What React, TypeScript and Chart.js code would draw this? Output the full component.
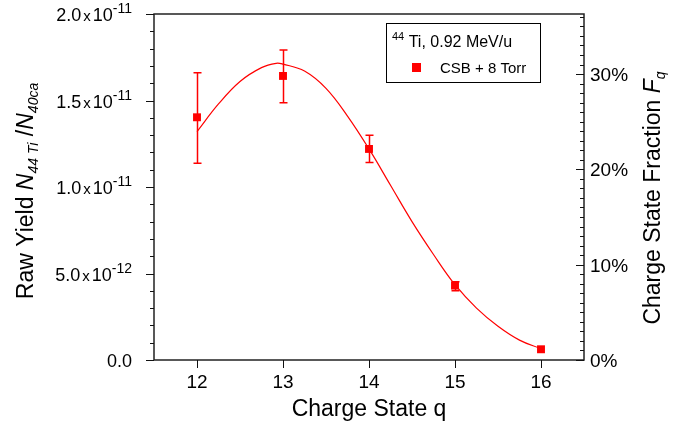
import React, { useEffect, useRef } from "react";
import { Chart, registerables } from "chart.js";

Chart.register(...registerables);

// ---- data ----
const chargeStates = [12, 13, 14, 15, 16];
const rawYield = [1.403e-11, 1.642e-11, 1.22e-11, 0.43e-11, 0.062e-11];
const yieldErrHigh = [1.661e-11, 1.792e-11, 1.299e-11, 0.452e-11, 0.068e-11];
const yieldErrLow = [1.137e-11, 1.487e-11, 1.141e-11, 0.4e-11, 0.056e-11];

const fitQ = [12.0, 12.25, 12.5, 12.75, 12.92, 13.0, 13.25, 13.5, 13.75, 14.0, 14.25, 14.5, 14.75, 15.0, 15.25, 15.5, 15.75, 16.0];
const fitYield = [1.32e-11, 1.48e-11, 1.61e-11, 1.69e-11, 1.715e-11, 1.71e-11, 1.67e-11, 1.57e-11, 1.41e-11, 1.22e-11, 1.01e-11, 0.8e-11, 0.61e-11, 0.435e-11, 0.3e-11, 0.195e-11, 0.115e-11, 0.065e-11];

const xTicks = [12, 13, 14, 15, 16];
const leftTicks = [0, 5e-12, 1e-11, 1.5e-11, 2e-11];
const leftMantissa = ["0.0", "5.0", "1.0", "1.5", "2.0"];
const leftExponent = ["", "-12", "-11", "-11", "-11"];
const rightTicks = [0, 0.1, 0.2, 0.3];
const rightLabels = ["0%", "10%", "20%", "30%"];

const legendTitleSup = "44";
const legendTitle = "Ti, 0.92 MeV/u";
const seriesLabel = "CSB + 8 Torr";

const FONT = "'Liberation Sans', Arial, Helvetica, sans-serif";
const RED = "#ff0000";

type Seg = { t: string; size: number; italic?: boolean; dy?: number; gap?: number };

function drawRich(ctx: CanvasRenderingContext2D, segs: Seg[], x: number, y: number, align: "left" | "right" | "center") {
  let total = 0;
  const widths: number[] = [];
  for (const s of segs) {
    ctx.font = `${s.italic ? "italic " : ""}${s.size}px ${FONT}`;
    const w = ctx.measureText(s.t).width + (s.gap || 0) * 2;
    widths.push(w);
    total += w;
  }
  let cx = align === "right" ? x - total : align === "center" ? x - total / 2 : x;
  ctx.textAlign = "left";
  ctx.textBaseline = "alphabetic";
  segs.forEach((s, i) => {
    ctx.font = `${s.italic ? "italic " : ""}${s.size}px ${FONT}`;
    ctx.fillText(s.t, cx + (s.gap || 0), y + (s.dy || 0));
    cx += widths[i];
  });
}

const decorPlugin = {
  id: "decor",
  beforeDatasetsDraw(chart: any) {
    const ctx = chart.ctx as CanvasRenderingContext2D;
    const xs = chart.scales.x;
    const ys = chart.scales.y;
    ctx.save();
    ctx.strokeStyle = RED;
    ctx.lineWidth = 1.5;
    chargeStates.forEach((q, i) => {
      const px = Math.round(xs.getPixelForValue(q)) + 0.5;
      const top = ys.getPixelForValue(yieldErrHigh[i]);
      const bot = ys.getPixelForValue(yieldErrLow[i]);
      if (bot - top < 6) return;
      ctx.beginPath();
      ctx.moveTo(px, top);
      ctx.lineTo(px, bot);
      ctx.moveTo(px - 4, top);
      ctx.lineTo(px + 4, top);
      ctx.moveTo(px - 4, bot);
      ctx.lineTo(px + 4, bot);
      ctx.stroke();
    });
    ctx.restore();
  },
  afterDraw(chart: any) {
    const ctx = chart.ctx as CanvasRenderingContext2D;
    const a = chart.chartArea;
    const xs = chart.scales.x;
    const ys = chart.scales.y;
    const y2 = chart.scales.y2;
    ctx.save();
    // frame
    ctx.strokeStyle = "#222";
    ctx.lineWidth = 1.5;
    ctx.strokeRect(a.left, a.top, a.right - a.left, a.bottom - a.top);

    ctx.lineWidth = 1;
    ctx.strokeStyle = "#111";
    // left ticks (outward)
    for (let i = 0; i <= 20; i++) {
      const v = i * 1e-12;
      const py = Math.round(ys.getPixelForValue(v)) + 0.5;
      const len = i % 5 === 0 ? 8 : 4;
      ctx.beginPath();
      ctx.moveTo(a.left - len, py);
      ctx.lineTo(a.left, py);
      ctx.stroke();
    }
    // right ticks (inward)
    for (let i = 0; i <= 36; i++) {
      const v = i * 0.01;
      const py = Math.round(y2.getPixelForValue(v)) + 0.5;
      const len = i % 10 === 0 ? 8 : 4;
      ctx.beginPath();
      ctx.moveTo(a.right - len, py);
      ctx.lineTo(a.right, py);
      ctx.stroke();
    }
    // bottom ticks (outward)
    xTicks.forEach((q) => {
      const px = Math.round(xs.getPixelForValue(q)) + 0.5;
      ctx.beginPath();
      ctx.moveTo(px, a.bottom);
      ctx.lineTo(px, a.bottom + 8);
      ctx.stroke();
    });

    ctx.fillStyle = "#000";
    // left tick labels
    leftTicks.forEach((v, i) => {
      const py = ys.getPixelForValue(v);
      const segs: Seg[] = leftExponent[i]
        ? [
            { t: leftMantissa[i], size: 18 },
            { t: "x", size: 15, gap: 2 },
            { t: "10", size: 18 },
            { t: leftExponent[i], size: 14, dy: -8 },
          ]
        : [{ t: leftMantissa[i], size: 18 }];
      drawRich(ctx, segs, 132, py + 7, "right");
    });
    // right tick labels
    rightTicks.forEach((v, i) => {
      const py = y2.getPixelForValue(v);
      drawRich(ctx, [{ t: rightLabels[i], size: 19 }], 590, py + 7, "left");
    });
    // x tick labels
    xTicks.forEach((q) => {
      const px = xs.getPixelForValue(q);
      drawRich(ctx, [{ t: String(q), size: 19 }], px, 388, "center");
    });
    // x title
    drawRich(ctx, [{ t: "Charge State q", size: 23 }], (a.left + a.right) / 2, 416, "center");

    // left title
    ctx.save();
    ctx.translate(33, 191);
    ctx.rotate(-Math.PI / 2);
    drawRich(
      ctx,
      [
        { t: "Raw Yield ", size: 23 },
        { t: "N", size: 23, italic: true },
        { t: "44 Ti", size: 14, italic: true, dy: 5 },
        { t: " /", size: 23 },
        { t: "N", size: 23, italic: true },
        { t: "40ca", size: 14, italic: true, dy: 5 },
      ],
      0,
      0,
      "center"
    );
    ctx.restore();

    // right title
    ctx.save();
    ctx.translate(660, 198);
    ctx.rotate(-Math.PI / 2);
    drawRich(
      ctx,
      [
        { t: "Charge State Fraction ", size: 23 },
        { t: "F", size: 23, italic: true },
        { t: "q", size: 14, italic: true, dy: 5 },
      ],
      0,
      0,
      "center"
    );
    ctx.restore();

    // legend
    ctx.strokeStyle = "#000";
    ctx.lineWidth = 1;
    ctx.strokeRect(386.5, 23.5, 154, 59);
    drawRich(
      ctx,
      [
        { t: legendTitleSup, size: 11, dy: -7 },
        { t: " " + legendTitle, size: 16 },
      ],
      392,
      47,
      "left"
    );
    ctx.fillStyle = RED;
    ctx.fillRect(412, 63, 9, 9);
    ctx.fillStyle = "#000";
    drawRich(ctx, [{ t: seriesLabel, size: 15 }], 440, 73, "left");

    ctx.restore();
  },
};

export default function App() {
  const ref = useRef<HTMLCanvasElement | null>(null);
  useEffect(() => {
    if (!ref.current) return;
    const chart = new Chart(ref.current, {
      type: "scatter",
      data: {
        datasets: [
          {
            type: "line",
            label: "fit",
            data: fitQ.map((q, i) => ({ x: q, y: fitYield[i] })),
            borderColor: RED,
            borderWidth: 1.2,
            pointRadius: 0,
            tension: 0.4,
            fill: false,
            yAxisID: "y",
            xAxisID: "x",
          } as any,
          {
            type: "scatter",
            label: seriesLabel,
            data: chargeStates.map((q, i) => ({ x: q, y: rawYield[i] })),
            backgroundColor: RED,
            borderColor: RED,
            borderWidth: 0,
            pointStyle: "rect",
            pointRadius: 5.6,
            yAxisID: "y",
            xAxisID: "x",
          } as any,
        ],
      },
      options: {
        responsive: false,
        animation: false,
        devicePixelRatio: 1,
        layout: { padding: { top: 14, left: 0, right: 0, bottom: 0 } },
        plugins: { legend: { display: false }, tooltip: { enabled: false } },
        scales: {
          x: {
            type: "linear",
            min: 11.5,
            max: 16.5,
            ticks: { display: false },
            grid: { display: false },
            border: { display: false },
            afterFit: (s: any) => {
              s.height = 68;
            },
          },
          y: {
            type: "linear",
            position: "left",
            min: 0,
            max: 2e-11,
            ticks: { display: false },
            grid: { display: false },
            border: { display: false },
            afterFit: (s: any) => {
              s.width = 154;
            },
          },
          y2: {
            type: "linear",
            position: "right",
            min: 0,
            max: 0.363,
            ticks: { display: false },
            grid: { display: false },
            border: { display: false },
            afterFit: (s: any) => {
              s.width = 103;
            },
          },
        },
      } as any,
      plugins: [decorPlugin],
    });
    return () => chart.destroy();
  }, []);
  return (
    <div style={{ position: "absolute", left: 0, top: 0, width: 687, height: 428, background: "#fff" }}>
      <canvas ref={ref} width={687} height={428} style={{ display: "block" }} />
    </div>
  );
}
